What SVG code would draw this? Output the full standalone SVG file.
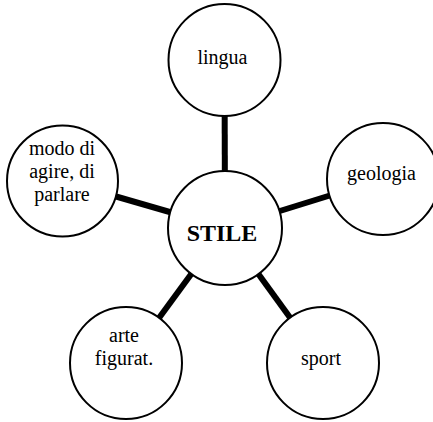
<svg xmlns="http://www.w3.org/2000/svg" width="433" height="422" viewBox="0 0 433 422">
<style>
.n{fill:#fff;stroke:#000;stroke-width:2}
.c line{stroke:#000;stroke-width:6}
text{font-family:"Liberation Serif","Times New Roman",serif;font-size:20px;fill:#000;text-anchor:middle}
.b{font-weight:bold;font-size:24px}
</style>
<rect width="433" height="422" fill="#fff"/>
<g class="c" id="connectors">
<line x1="225" y1="228" x2="224.5" y2="60"/>
<line x1="225" y1="228" x2="62.5" y2="181"/>
<line x1="225" y1="228" x2="383" y2="179"/>
<line x1="225" y1="228" x2="126" y2="363"/>
<line x1="225" y1="228" x2="323" y2="363"/>
</g>
<g id="lingua"><circle class="n" cx="224.5" cy="60" r="56"/><text x="222.5" y="64">lingua</text></g>
<g id="modo"><circle class="n" cx="62.5" cy="181" r="55.5"/><text x="62" y="155">modo di</text><text x="62" y="178">agire, di</text><text x="62" y="201">parlare</text></g>
<g id="geologia"><circle class="n" cx="383" cy="179" r="56"/><text x="381.5" y="180">geologia</text></g>
<g id="arte"><circle class="n" cx="126" cy="363" r="56"/><text x="124" y="342">arte</text><text x="124" y="365">figurat.</text></g>
<g id="sport"><circle class="n" cx="323" cy="363" r="56"/><text x="321" y="365">sport</text></g>
<g id="stile"><circle class="n" cx="225" cy="228" r="57"/><text class="b" x="222" y="241">STILE</text></g>
</svg>
